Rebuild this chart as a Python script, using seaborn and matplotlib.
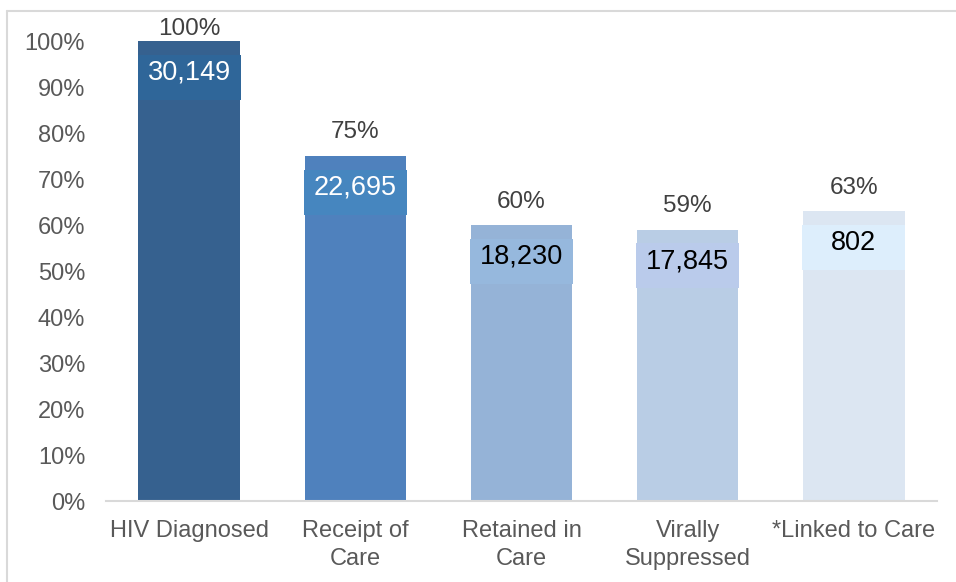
import matplotlib
matplotlib.use("Agg")
import matplotlib.pyplot as plt
import seaborn as sns
import pandas as pd

categories = ["HIV Diagnosed", "Receipt of\nCare", "Retained in\nCare", "Virally\nSuppressed", "*Linked to Care"]
percents = [100, 75, 60, 59, 63]
counts = ["30,149", "22,695", "18,230", "17,845", "802"]
bar_colors = ["#36618F", "#4F81BD", "#95B3D7", "#B9CDE5", "#DCE6F2"]
box_colors = ["#2F6699", "#4686BF", "#96B8DD", "#BACBEB", "#DDEEFC"]
count_text_colors = ["white", "white", "black", "black", "black"]

sns.set_theme(style="white")
plt.rcParams["font.family"] = ["Liberation Sans", "DejaVu Sans"]

df = pd.DataFrame({"cat": categories, "pct": percents})

fig = plt.figure(figsize=(9.56, 5.82), dpi=100)
ax = fig.add_axes([106/956, 1-501/582, (937-106)/956, (501-41)/582])

sns.barplot(data=df, x="cat", y="pct", hue="cat", palette=bar_colors,
            width=0.61, legend=False, ax=ax, saturation=1, linewidth=0)

# count label boxes
box_h = 9.8
for i, (p, c, bc, tc) in enumerate(zip(percents, counts, box_colors, count_text_colors)):
    ax.bar(i, box_h, bottom=p - 3.0 - box_h, width=0.62, color=bc, zorder=3, linewidth=0)
    ax.text(i, p - 3.0 - box_h/2 + 1.0, c, ha="center", va="center", fontsize=19.5,
            color=tc, zorder=4)
    off = 9 if p < 95 else 0.5
    ax.annotate(f"{p}%", (i, p), xytext=(0, off), textcoords="offset points",
                ha="center", va="bottom", fontsize=17.5, color="#404040",
                annotation_clip=False)

ax.set_xlim(-0.5, len(categories) - 0.5)
ax.set_ylim(0, 100)
ax.set_yticks(range(0, 101, 10))
ax.set_yticklabels([f"{v}%" for v in range(0, 101, 10)])
ax.set_xlabel("")
ax.set_ylabel("")
for s in ["top", "right", "left"]:
    ax.spines[s].set_visible(False)
ax.spines["bottom"].set_color("#D9D9D9")
ax.spines["bottom"].set_linewidth(1.5)
ax.tick_params(axis="x", length=0, pad=14, labelsize=17, labelcolor="#595959")
ax.tick_params(axis="y", length=0, pad=15, labelsize=17, labelcolor="#595959")
for lbl in ax.get_xticklabels():
    lbl.set_linespacing(1.3)

# figure border (top and left visible)
fig.add_artist(plt.Line2D([7/956, 1], [1-11/582, 1-11/582], color="#D9D9D9", lw=1.5))
fig.add_artist(plt.Line2D([7/956, 7/956], [0, 1-11/582], color="#D9D9D9", lw=1.5))

fig.savefig("out.png", dpi=100)
